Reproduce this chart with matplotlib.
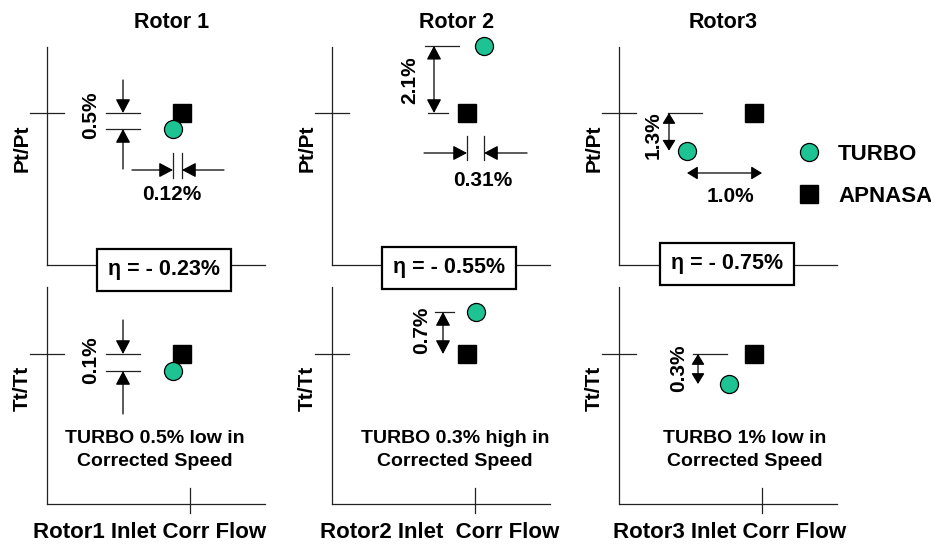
import matplotlib
matplotlib.use('Agg')
import matplotlib.pyplot as plt
import matplotlib.transforms as mtransforms
from matplotlib.lines import Line2D

plt.rcParams['font.family'] = ['Liberation Sans', 'DejaVu Sans']
plt.rcParams['font.weight'] = 'bold'

# deltas of TURBO relative to APNASA (percent)
rotors = ['Rotor 1', 'Rotor 2', 'Rotor3']
flow_labels = ['Rotor1 Inlet Corr Flow', 'Rotor2 Inlet  Corr Flow', 'Rotor3 Inlet Corr Flow']
apnasa_dflow = [0.0, 0.0, 0.0]
apnasa_dpt = [0.0, 0.0, 0.0]
apnasa_dtt = [0.0, 0.0, 0.0]
turbo_dflow = [-0.12, 0.31, -1.0]
turbo_dpt = [-0.5, 2.1, -1.3]
turbo_dtt = [-0.1, 0.7, -0.3]
eta = [-0.23, -0.55, -0.75]
pt_labels = ['0.5%', '2.1%', '1.3%']
flow_dlabels = ['0.12%', '0.31%', '1.0%']
tt_labels = ['0.1%', '0.7%', '0.3%']
speed_notes = ['TURBO 0.5% low in\nCorrected Speed',
               'TURBO 0.3% high in\nCorrected Speed',
               'TURBO 1% low in\nCorrected Speed']

# schematic scales (pixels per percent) for each panel
sx_top = [75, 55, 67]
sy_top = [32, 32, 29]
sx_bot = [75, 29, 25]
sy_bot = [170, 60, 100]

TEAL = '#1dc392'
LINE = '#222222'
W = 218
lefts = [47, 332, 619]

fig = plt.figure(figsize=(9.31, 5.45), dpi=100)


def add_ax(left, top, h):
    return fig.add_axes([left / 931, 1 - (top + h) / 545, W / 931, h / 545])


def axpx(ax):
    h = ax.bbox.height
    return mtransforms.Affine2D().scale(1 / W, 1 / h) + ax.transAxes


def ypx(ax):
    # x in axes pixels, y in data
    return mtransforms.blended_transform_factory(axpx(ax), ax.transData)


def xpx(ax):
    # x in data, y in axes pixels
    return mtransforms.blended_transform_factory(ax.transData, axpx(ax))


def style(ax, ytick):
    for s in ['top', 'right']:
        ax.spines[s].set_visible(False)
    for s in ['left', 'bottom']:
        ax.spines[s].set_color(LINE)
        ax.spines[s].set_linewidth(0.9)
    ax.set_xticks([])
    ax.set_yticks([])
    ax.patch.set_alpha(0)
    t = axpx(ax)
    ax.plot([-17, 17], [ytick, ytick], color=LINE, lw=0.9, transform=t, clip_on=False)
    ax.plot([143, 143], [-9, 16], color=LINE, lw=0.9, transform=t, clip_on=False)


ARW = dict(arrowstyle='-|>,head_length=0.85,head_width=0.45', color='black',
           lw=0.9, shrinkA=0, shrinkB=0, mutation_scale=10)
DARW = dict(ARW, arrowstyle='<|-|>,head_length=0.85,head_width=0.45')
DARW_S = dict(ARW, arrowstyle='<|-|>,head_length=0.65,head_width=0.4')


def arrow_in_y(ax, x, y, dy):
    ax.annotate('', xy=(x, y), xycoords=ypx(ax), xytext=(0, dy),
                textcoords='offset pixels', arrowprops=ARW)


def arrow_in_x(ax, x, y, dx):
    ax.annotate('', xy=(x, y), xycoords=xpx(ax), xytext=(dx, 0),
                textcoords='offset pixels', arrowprops=ARW)


def hline(ax, y, x0, x1):
    ax.plot([x0, x1], [y, y], color=LINE, lw=0.9, transform=ypx(ax), clip_on=False)


def vline(ax, x, y0, y1):
    ax.plot([x, x], [y0, y1], color=LINE, lw=0.9, transform=xpx(ax), clip_on=False)


def vlabel(ax, x, y, s):
    ax.text(x, y, s, transform=axpx(ax), rotation=90, fontsize=15,
            ha='center', va='center')


for i in range(3):
    L = lefts[i]
    axp = add_ax(L, 47, 218)
    axt = add_ax(L, 287, 217)
    axp.set_xlim(-135 / sx_top[i], 83 / sx_top[i])
    axp.set_ylim(-152 / sy_top[i], 66 / sy_top[i])
    axt.set_xlim(-135 / sx_bot[i], 83 / sx_bot[i])
    axt.set_ylim(-150 / sy_bot[i], 67 / sy_bot[i])
    style(axp, 152)
    style(axt, 150)

    for ax, dx, dy in [(axp, apnasa_dflow, apnasa_dpt), (axt, apnasa_dflow, apnasa_dtt)]:
        ax.plot(dx[i], dy[i], 's', color='black', ms=12.5, zorder=5, clip_on=False)
    axp.plot(turbo_dflow[i], turbo_dpt[i], 'o', mfc=TEAL, mec='black', mew=0.9,
             ms=13, zorder=6, clip_on=False)
    axt.plot(turbo_dflow[i], turbo_dtt[i], 'o', mfc=TEAL, mec='black', mew=0.9,
             ms=13, zorder=6, clip_on=False)

    axp.text([125, 125, 104][i], 242, rotors[i], transform=axpx(axp), fontsize=15.5,
             ha='center', va='center')
    axp.text(-25, 117, 'Pt/Pt', transform=axpx(axp), rotation=90, fontsize=15,
             ha='center', va='center')
    axt.text(-25, 116, 'Tt/Tt', transform=axpx(axt), rotation=90, fontsize=15,
             ha='center', va='center')
    axt.text([103, 108, 111][i], -29, flow_labels[i], transform=axpx(axt), fontsize=16,
             ha='center', va='center')
    axt.text([108, 123, 126][i], 54, speed_notes[i], transform=axpx(axt), fontsize=14,
             ha='center', va='center', linespacing=1.45)
    bx, by = [(117, -5), (117, -3), (108, 1)][i]
    axp.text(bx, by, 'η = - %.2f%%' % abs(eta[i]), transform=axpx(axp), fontsize=15.5,
             ha='center', va='center', zorder=10,
             bbox=dict(boxstyle='square,pad=0.5', fc='white', ec='black', lw=1.6))

    p0, p1 = apnasa_dpt[i], turbo_dpt[i]
    t0, t1 = apnasa_dtt[i], turbo_dtt[i]
    f0, f1 = apnasa_dflow[i], turbo_dflow[i]
    if i == 0:
        hline(axp, p0, 59, 93)
        hline(axp, p1, 59, 93)
        arrow_in_y(axp, 76, p0, 33)
        arrow_in_y(axp, 76, p1, -40)
        vlabel(axp, 44, 150, pt_labels[i])
        vline(axp, f1, 87, 112)
        vline(axp, f0, 87, 112)
        arrow_in_x(axp, f1, 95, -41)
        arrow_in_x(axp, f0, 95, 42)
        axp.text(125, 70, flow_dlabels[i], transform=axpx(axp), fontsize=15,
                 ha='center', va='center')
        hline(axt, t0, 59, 93)
        hline(axt, t1, 59, 93)
        arrow_in_y(axt, 76, t0, 34)
        arrow_in_y(axt, 76, t1, -43)
        vlabel(axt, 44, 144, tt_labels[i])
    elif i == 1:
        hline(axp, p1, 93, 127)
        hline(axp, p0, 96, 116)
        axp.annotate('', xy=(102, p0), xycoords=ypx(axp), xytext=(102, p1),
                     textcoords=ypx(axp), arrowprops=DARW)
        vlabel(axp, 78, 185, pt_labels[i])
        vline(axp, f0, 105, 129)
        vline(axp, f1, 105, 129)
        arrow_in_x(axp, f0, 112, -43)
        arrow_in_x(axp, f1, 112, 43)
        axp.text(151, 85, flow_dlabels[i], transform=axpx(axp), fontsize=15,
                 ha='center', va='center')
        hline(axt, t1, 103, 122)
        axt.annotate('', xy=(111, t0), xycoords=ypx(axt), xytext=(111, t1),
                     textcoords=ypx(axt), arrowprops=DARW)
        vlabel(axt, 90, 174, tt_labels[i])
    else:
        hline(axp, p0, 49, 83)
        axp.annotate('', xy=(50, p0), xycoords=ypx(axp), xytext=(50, p1),
                     textcoords=ypx(axp), arrowprops=DARW_S)
        vlabel(axp, 34, 130, pt_labels[i])
        axp.annotate('', xy=(f1, 92), xycoords=xpx(axp), xytext=(f0 + 8 / sx_top[i], 92),
                     textcoords=xpx(axp), arrowprops=DARW_S)
        axp.text(111, 69, flow_dlabels[i], transform=axpx(axp), fontsize=15,
                 ha='center', va='center')
        hline(axt, t0, 74, 108)
        axt.annotate('', xy=(79, t0), xycoords=ypx(axt), xytext=(79, t1),
                     textcoords=ypx(axt), arrowprops=DARW_S)
        vlabel(axt, 60, 136, tt_labels[i])

        handles = [Line2D([], [], marker='o', ls='none', mfc=TEAL, mec='black', mew=0.9, ms=13),
                   Line2D([], [], marker='s', ls='none', color='black', ms=12.5)]
        axp.legend(handles, ['TURBO', 'APNASA'], loc='center left',
                   bbox_to_anchor=(178, 89.5), bbox_transform=axpx(axp),
                   frameon=False, fontsize=16, borderaxespad=0, borderpad=0,
                   handlelength=1.1, handletextpad=0.75, labelspacing=0.95)

fig.savefig('out.png', dpi=100)
